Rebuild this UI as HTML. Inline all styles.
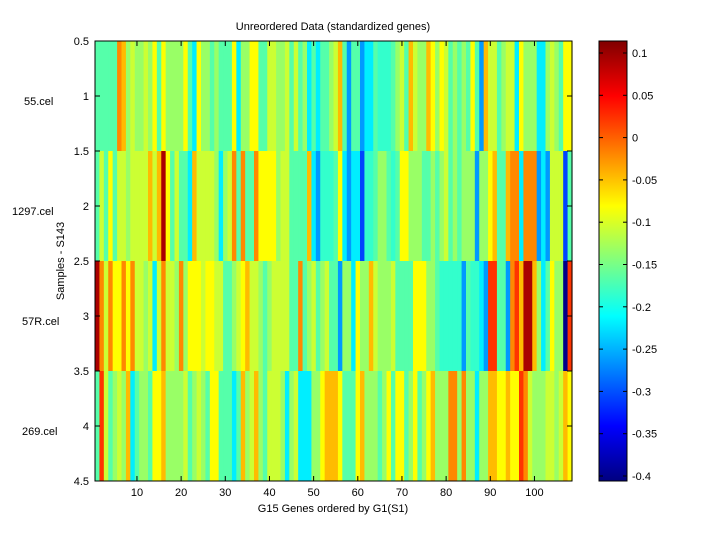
<!DOCTYPE html>
<html><head><meta charset="utf-8"><style>
html,body{margin:0;padding:0;background:#fff;width:720px;height:540px;overflow:hidden}
svg text{font-family:"Liberation Sans",sans-serif;font-size:11px;fill:#000}
</style></head><body>
<svg id="s" width="720" height="540" xmlns="http://www.w3.org/2000/svg">
<defs><linearGradient id="jet" x1="0" y1="1" x2="0" y2="0">
<stop offset="0" stop-color="#000080"/><stop offset="0.125" stop-color="#0000ff"/>
<stop offset="0.375" stop-color="#00ffff"/><stop offset="0.625" stop-color="#ffff00"/>
<stop offset="0.875" stop-color="#ff0000"/><stop offset="1" stop-color="#800000"/>
</linearGradient></defs>
<g id="cells"></g>
<rect x="95" y="41" width="477" height="440" fill="none" stroke="#000" stroke-width="1"/>
<rect x="599" y="41" width="28" height="440" fill="url(#jet)" stroke="#000" stroke-width="1"/>
<g id="ax"></g>
<text x="333" y="30" text-anchor="middle">Unreordered Data (standardized genes)</text>
<text x="333" y="512" text-anchor="middle">G15 Genes ordered by G1(S1)</text>
<text transform="translate(64,261) rotate(-90)" text-anchor="middle">Samples - S143</text>
<text x="24" y="105">55.cel</text>
<text x="12" y="215">1297.cel</text>
<text x="22" y="325">57R.cel</text>
<text x="22" y="435">269.cel</text>
</svg>
<script>
var C={g:"#55ffaa",l:"#99ff66",Y:"#ccff33",y:"#ffff00",o:"#ffbb00",O:"#ff8800",r:"#ff3300",R:"#aa0000",c:"#00eeff",b:"#0099ff",B:"#0044ff",N:"#000088",t:"#33ffcc"};
var rows=[
"gggggOolYllYlygyllllygcyllg"+"lgggycllyyggYYllYgYglcgcggl"+"YogbggbccgtttglYgoYlloylyYg"+"lglgygboYYglYYcylllcclYlgyy",
"gYgygYYlYYYYoYoRygYggcoYYYY"+"lclYOgOggOyyyylYYggggocbttt"+"gycbccBttgllgtgyylllgglglYg"+"lglllbllyoggoOOcOOObcbYYYBg",
"ROYOyyOyOYYlYcYOYYlOlyyyYyy"+"YYgglYyoYYlglYYYYggOglYglYg"+"gbllcylloYlllYggggyyyllgttt"+"ttbgttcbrrggbOroRRolcgyllNr",
"grYglYlocgllgyyollllYglYlgy"+"ygggcgolYolgYYYlclYccclly"+"oo"+"oygggyolllglygyyglyglyolllO"+"OlOllcllooyyoyyrOYlllYYlYoy"
];
var w=477/108,g=document.getElementById("cells"),h="";
rows.forEach(function(r,ri){
 for(var i=0;i<108;i++){var ch=r[i]||r[r.length-1];
  var x0=95+i*w;h+='<rect x="'+x0.toFixed(2)+'" y="'+(41+ri*110)+'" width="'+(w+0.6).toFixed(2)+'" height="110" fill="'+(C[ch]||"#99ff66")+'"/>';}
});
g.innerHTML=h;
var a="";
var yl=["0.5","1","1.5","2","2.5","3","3.5","4","4.5"];
yl.forEach(function(t,i){var y=41+i*55;
 a+='<line x1="95" y1="'+y+'" x2="100" y2="'+y+'" stroke="#000"/><line x1="567" y1="'+y+'" x2="572" y2="'+y+'" stroke="#000"/>';
 a+='<text x="89" y="'+(y+4)+'" text-anchor="end">'+t+'</text>';});
for(var v=10;v<=100;v+=10){var x=95+(v-0.5)*w;
 a+='<line x1="'+x+'" y1="481" x2="'+x+'" y2="476" stroke="#000"/><line x1="'+x+'" y1="41" x2="'+x+'" y2="46" stroke="#000"/>';
 a+='<text x="'+x+'" y="496" text-anchor="middle">'+v+'</text>';}
var cb=["0.1","0.05","0","-0.05","-0.1","-0.15","-0.2","-0.25","-0.3","-0.35","-0.4"];
cb.forEach(function(t,i){var y=53+i*42.3;
 a+='<line x1="599" y1="'+y+'" x2="603" y2="'+y+'" stroke="#000"/><line x1="623" y1="'+y+'" x2="627" y2="'+y+'" stroke="#000"/>';
 a+='<text x="632" y="'+(y+4)+'">'+t+'</text>';});
document.getElementById("ax").innerHTML=a;
</script>
</body></html>
